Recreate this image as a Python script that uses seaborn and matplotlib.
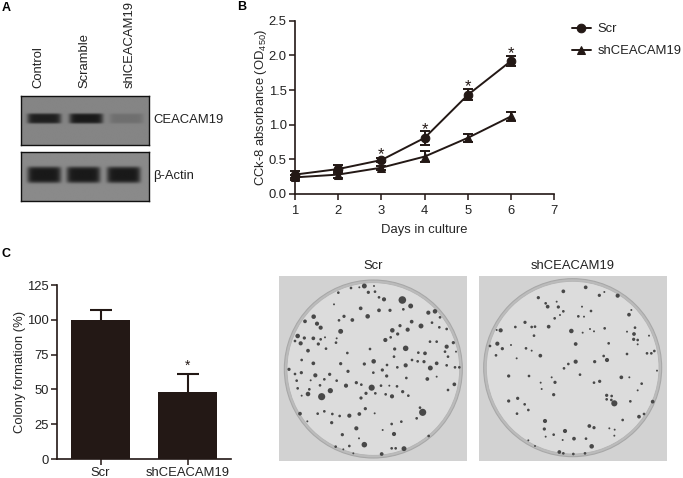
import numpy as np
import pandas as pd
import matplotlib
matplotlib.use("Agg")
import matplotlib.pyplot as plt
from matplotlib.patches import Circle
import seaborn as sns

sns.set_style("ticks")
plt.rcParams["font.family"] = ["Liberation Sans", "DejaVu Sans"]
plt.rcParams["mathtext.fontset"] = "custom"
plt.rcParams["mathtext.rm"] = "Liberation Sans"
plt.rcParams["mathtext.default"] = "regular"
plt.rcParams["text.color"] = "#222222"
FS = 9.4
DARK = "#231815"

# panel A: blot lanes
lanes = ["Control", "Scramble", "shlCEACAM19"]
ceacam_x = [133, 258, 378]
ceacam_strength = [0.95, 1.0, 0.2]
actin_x = [133, 250, 370]
actin_strength = [1.0, 1.0, 1.0]

# panel B: CCK-8
days = [1, 2, 3, 4, 5, 6]
scr_od = [0.28, 0.36, 0.49, 0.81, 1.43, 1.92]
scr_err = [0.05, 0.06, 0.03, 0.10, 0.08, 0.07]
sh_od = [0.24, 0.28, 0.38, 0.54, 0.81, 1.12]
sh_err = [0.04, 0.05, 0.03, 0.08, 0.06, 0.07]
star_days = [3, 4, 5, 6]
star_od = [0.57, 0.93, 1.55, 2.02]

# panel C: colony formation
groups = ["Scr", "shCEACAM19"]
colony_pct = [100, 48]
colony_err = [7, 13]

# colonies read from the plates: x, y, diameter (in 3x crop pixels)
scr_colonies = [
    (283,108,8),(243,114,3),(295,127,4),(315,125,3),(205,128,3),(312,108,2),(268,112,2),
    (397,150,18),(422,168,8),(342,148,6),(327,142,3),(327,181,5),(360,181,4),(400,178,3),
    (272,175,5),(192,163,2),(293,199,7),(247,210,5),(222,199,4),(207,211,3),(131,200,7),
    (105,214,5),(141,221,6),(152,233,6),(212,244,8),(475,188,6),(495,184,7),(510,202,3),
    (453,228,8),(486,218,3),(508,232,3),(530,237,3),(425,215,5),(413,239,6),(390,227,4),
    (367,241,7),(383,252,4),(346,270,6),(362,262,3),(83,258,7),(103,264,4),(75,273,3),
    (92,280,6),(130,265,5),(152,268,3),(145,282,4),(165,262,2),(168,296,3),(114,302,5),
    (198,278,3),(200,265,2),(407,295,10),(374,297,4),(372,320,3),(300,297,3),(232,309,3),
    (465,310,5),(445,308,3),(480,275,3),(500,275,3),(530,290,6),(550,278,4),(525,305,3),
    (534,320,3),(558,305,2),(311,334,7),(283,342,4),(130,340,5),(95,330,3),(212,341,4),
    (234,364,4),(351,345,3),(337,360,4),(407,346,6),(382,352,3),(426,330,3),(443,334,3),
    (462,335,4),(481,354,8),(500,340,5),(555,352,3),(568,352,3),(530,346,3),(57,358,4),
    (75,372,3),(94,368,4),(136,376,6),(179,373,4),(80,392,3),(122,391,2),(163,388,3),
    (200,392,3),(310,368,3),(350,378,4),(409,384,3),(472,387,5),(553,403,5),(500,380,2),
    (83,415,3),(118,418,3),(114,432,7),(95,437,2),(155,440,16),(181,422,9),(150,406,3),
    (228,407,6),(259,398,4),(274,404,3),(305,413,12),(333,407,3),(347,433,3),(366,439,6),
    (398,425,4),(415,437,3),(381,409,3),(358,407,2),(273,444,4),(288,430,4),(316,430,3),
    (534,420,3),(143,491,3),(163,484,3),(185,518,4),(209,498,3),(238,497,6),(268,492,5),
    (286,476,4),(314,490,2),(90,491,5),(112,514,2),(187,492,3),(259,535,6),(217,554,4),
    (338,540,2),(365,522,3),(394,515,3),(372,552,6),(458,487,16),(440,505,3),(450,473,3),
    (476,558,3),(283,584,10),(267,565,2),(335,612,5),(402,596,8),(365,595,3),(377,595,3),
    (250,610,2),(197,590,3),(220,598,2),(238,588,3),
]
sh_colonies = [
    (880,124,5),(947,112,5),(988,136,4),(1043,137,6),(805,143,4),(827,160,3),(833,170,5),
    (865,171,4),(860,155,2),(880,184,3),(854,205,3),(870,195,2),(936,170,2),(963,183,3),
    (925,199,3),(942,200,2),(1003,126,2),(1077,194,5),(1084,180,2),(765,217,4),(736,231,3),
    (785,231,3),(795,230,3),(836,230,5),(792,257,3),(904,243,7),(938,248,2),(972,244,2),
    (960,237,2),(1004,235,3),(692,241,6),(680,240,2),(1071,245,2),(1095,233,3),(1092,252,5),
    (1091,268,4),(1103,270,3),(1103,283,2),(1137,257,2),(682,281,6),(660,288,3),(697,296,4),
    (723,285,2),(678,316,3),(768,295,3),(785,302,2),(811,317,5),(917,282,5),(1016,280,3),
    (740,325,2),(917,335,6),(1011,330,6),(1001,318,3),(974,335,4),(895,342,3),(882,355,3),
    (1071,312,3),(1131,310,3),(1144,310,3),(1153,303,3),(1161,362,2),(716,378,4),(777,378,3),
    (845,382,2),(930,374,3),(812,398,2),(855,397,4),(815,417,2),(989,394,4),(972,398,3),
    (1054,382,5),(1078,382,2),(1115,401,3),(1103,421,2),(851,434,4),(1010,436,4),(1025,438,3),
    (1010,448,3),(1024,450,3),(1033,460,12),(1081,454,3),(716,453,4),(743,445,4),(764,463,3),
    (775,480,3),(741,491,3),(1148,455,5),(1107,500,5),(1122,492,3),(1058,510,3),(825,513,6),
    (823,537,4),(885,543,6),(851,554,3),(827,560,2),(958,528,5),(972,533,4),(1018,535,2),
    (1034,539,2),(1033,557,2),(912,566,5),(948,566,3),(878,570,2),(965,589,7),(868,606,5),
    (880,610,3),(910,612,3),(945,610,3),(775,571,2),(795,588,2),
]

W, H = 683, 478
fig = plt.figure(figsize=(W / 100, H / 100), dpi=100)


def px_axes(x0, y0, x1, y1):
    return fig.add_axes([x0 / W, 1 - y1 / H, (x1 - x0) / W, (y1 - y0) / H])


for label, x, y in [("A", 2, 8), ("B", 237, 7), ("C", 2, 254)]:
    fig.text(x / W, 1 - y / H, label, fontsize=9, fontweight="bold", color="black",
             va="center")


# ---- panel A
def blot(ax, xs, strengths, yc, half_w, half_h, y0, y1, bg):
    xx, yy = np.meshgrid(np.arange(64, 446), np.arange(y0, y1))
    img = np.full(xx.shape, bg, dtype=float)
    for xc, st in zip(xs, strengths):
        band = np.exp(-np.abs((xx - xc) / half_w) ** 8 - np.abs((yy - yc) / half_h) ** 6)
        img -= st * (bg - 0.1) * band
    ax.imshow(img, cmap="gray", vmin=0, vmax=1, aspect="auto",
              extent=(64, 446, y1, y0), interpolation="bilinear")
    ax.set_xticks([])
    ax.set_yticks([])
    for s in ax.spines.values():
        s.set_linewidth(1.0)
        s.set_color("#111111")


ax_top = px_axes(21.3, 95.5, 148.7, 144.7)
blot(ax_top, ceacam_x, ceacam_strength, 355, 50, 15, 286, 434, 0.52)
ax_bot = px_axes(21.3, 151.5, 148.7, 200.7)
blot(ax_bot, actin_x, actin_strength, 524, 50, 24, 454, 602, 0.54)

for name, x in zip(lanes, [38.5, 84, 130]):
    fig.text(x / W, 1 - 88 / H, name, rotation=90, fontsize=FS, ha="center", va="bottom")
fig.text(153 / W, 1 - 120 / H, "CEACAM19", fontsize=FS, va="center")
fig.text(153 / W, 1 - 175.5 / H, "β-Actin", fontsize=FS, va="center")

# ---- panel B
ax_b = px_axes(295, 20.7, 554.3, 194)
df_b = pd.DataFrame({
    "day": days * 2,
    "od": scr_od + sh_od,
    "group": ["Scr"] * len(days) + ["shCEACAM19"] * len(days),
})
sns.lineplot(data=df_b, x="day", y="od", hue="group", style="group",
             palette=[DARK, DARK], markers=["o", "^"], dashes=False, markersize=6.2,
             markeredgecolor=DARK, linewidth=1.4, ax=ax_b, clip_on=False, errorbar=None)
for vals, errs in [(scr_od, scr_err), (sh_od, sh_err)]:
    ax_b.errorbar(days, vals, yerr=errs, fmt="none", ecolor=DARK, elinewidth=1.4,
                  capsize=3.4, capthick=1.4, clip_on=False)
for d, v in zip(star_days, star_od):
    ax_b.text(d, v, "*", fontsize=12, ha="center", va="center", color=DARK)
ax_b.set_xlim(1, 7)
ax_b.set_ylim(0, 2.5)
ax_b.set_xticks(range(1, 8))
ax_b.set_yticks([0, 0.5, 1.0, 1.5, 2.0, 2.5])
ax_b.set_yticklabels(["0.0", "0.5", "1.0", "1.5", "2.0", "2.5"])
ax_b.set_xlabel("Days in culture", fontsize=FS, labelpad=5)
ax_b.set_ylabel("CCk-8 absorbance (OD$_{450}$)", fontsize=FS, labelpad=0)
ax_b.legend(loc="upper left", bbox_to_anchor=(1.067, 0.985), frameon=False,
            fontsize=FS, handlelength=1.5, labelspacing=0.76, handletextpad=0.5,
            borderaxespad=0, borderpad=0)
sns.despine(ax=ax_b)

# ---- panel C
ax_c = px_axes(57.3, 285, 231, 459)
df_c = pd.DataFrame({"group": groups, "pct": colony_pct})
sns.barplot(data=df_c, x="group", y="pct", color=DARK, saturation=1, width=0.68,
            linewidth=0, ax=ax_c, errorbar=None)
bar_err = ax_c.errorbar(range(len(groups)), colony_pct,
                        yerr=[[0] * len(groups), colony_err], fmt="none", ecolor=DARK,
                        elinewidth=1.5, capsize=7.6, capthick=1.5)
bar_err[1][0].set_visible(False)  # only the upper caps
ax_c.text(1, 67, "*", fontsize=10, ha="center", va="center", color=DARK)
ax_c.set_xlim(-0.497, 1.5)
ax_c.set_ylim(0, 125)
ax_c.set_yticks([0, 25, 50, 75, 100, 125])
ax_c.set_xlabel("")
ax_c.set_ylabel("Colony formation (%)", fontsize=FS, labelpad=1)
sns.despine(ax=ax_c)

for ax in (ax_b, ax_c):
    ax.tick_params(labelsize=FS, length=4, width=1.1, color=DARK, pad=2, labelcolor="#222222")
    for s in ("left", "bottom"):
        ax.spines[s].set_linewidth(1.2)
        ax.spines[s].set_color(DARK)
ax_b.tick_params(axis="x", pad=4)
ax_c.tick_params(axis="x", pad=2)


# ---- plates
def plate(rect, colonies, cx, cy, title):
    x0, y0, x1, y1 = rect
    ax = px_axes(270 + x0 / 3, 250 + y0 / 3, 270 + x1 / 3, 250 + y1 / 3)
    ax.set_facecolor("#d2d2d2")
    ax.add_patch(Circle((cx, cy), 267, fc="#bcbcbc", ec="#a8a8a8", lw=0.8))
    ax.add_patch(Circle((cx, cy), 259, fc="#dcdcdc", ec="#b4b4b4", lw=0.6))
    tab = pd.DataFrame(colonies, columns=["x", "y", "d"])
    sns.scatterplot(data=tab, x="x", y="y", size="d", sizes=(2, 30), size_norm=(2, 18),
                    color="#484848", edgecolor="none", legend=False, ax=ax, zorder=3)
    ax.set_xlim(x0, x1)
    ax.set_ylim(y1, y0)
    ax.set_aspect("auto")
    ax.set_xticks([])
    ax.set_yticks([])
    ax.set_xlabel("")
    ax.set_ylabel("")
    for s in ax.spines.values():
        s.set_visible(False)
    fig.text((270 + (x0 + x1) / 6) / W, 1 - 266 / H, title, fontsize=FS, ha="center",
             va="center")


plate((27, 77, 591, 633), scr_colonies, 310, 357, "Scr")
plate((628, 78, 1190, 632), sh_colonies, 908, 353, "shCEACAM19")

fig.savefig("out.png", dpi=100)
